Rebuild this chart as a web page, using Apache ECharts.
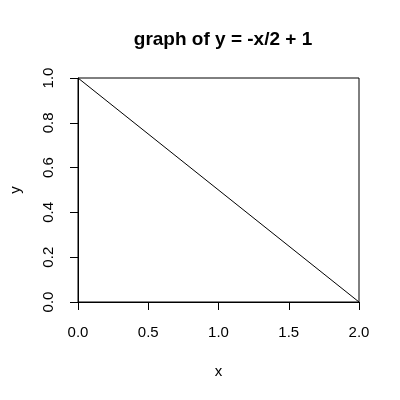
<!DOCTYPE html>
<html lang="en">
<head>
  <meta charset="UTF-8">
  <title>graph of y = -x/2 + 1</title>
  <script type="text/javascript" src="https://fastly.jsdelivr.net/npm/echarts@6.0.0/dist/echarts.min.js"></script>
  <style>
    html, body, #container {
      width: 100%;
      height: 100%;
      margin: 0;
      padding: 0;
      overflow: hidden;
      background: #fff;
    }
  </style>
</head>
<body>
  <div id="container"></div>

  <script type="text/javascript">
    // line end points
    var xValues = [0, 2];
    var yValues = [1, 0];
    var xTicks = [0, 0.5, 1, 1.5, 2];
    var yTicks = [0, 0.2, 0.4, 0.6, 0.8, 1];

    var points = xValues.map(function (x, i) { return [x, yValues[i]]; });
    var font = 'Liberation Sans, Arial, sans-serif';

    var myChart = echarts.init(document.getElementById('container'), null, { renderer: 'canvas' });
    myChart.setOption({
      animation: false,
      title: {
        text: 'graph of y = -x/2 + 1',
        left: 218, top: 25, textAlign: 'center',
        textStyle: { fontFamily: font, fontSize: 19, fontWeight: 'bold', color: '#000' }
      },
      grid: {
        left: 78, right: 41, top: 78, bottom: 98,
        outerBoundsMode: 'none',
        show: true, borderColor: '#000', borderWidth: 1
      },
      xAxis: {
        type: 'value',
        min: xTicks[0], max: xTicks[xTicks.length - 1], interval: 0.5,
        name: 'x', nameLocation: 'middle', nameGap: 62,
        nameTextStyle: { fontFamily: font, fontSize: 15, color: '#000' },
        axisLine: { show: true, onZero: false, lineStyle: { color: '#000', width: 1 } },
        axisTick: { show: true, inside: false, length: 8, lineStyle: { color: '#000', width: 1 } },
        axisLabel: {
          margin: 23, fontFamily: font, fontSize: 15, color: '#000',
          showMinLabel: true, showMaxLabel: true,
          formatter: function (v) { return v.toFixed(1); }
        },
        splitLine: { show: false },
        z: 5
      },
      yAxis: {
        type: 'value',
        min: yTicks[0], max: yTicks[yTicks.length - 1], interval: 0.2,
        name: 'y', nameLocation: 'middle', nameGap: 55, nameRotate: 90,
        nameTextStyle: { fontFamily: font, fontSize: 15, color: '#000' },
        axisLine: { show: true, onZero: false, lineStyle: { color: '#000', width: 1 } },
        axisTick: { show: true, inside: false, length: 8, lineStyle: { color: '#000', width: 1 } },
        axisLabel: {
          margin: 22, rotate: 90, fontFamily: font, fontSize: 15, color: '#000',
          showMinLabel: true, showMaxLabel: true,
          formatter: function (v) { return v.toFixed(1); }
        },
        splitLine: { show: false },
        z: 5
      },
      series: [{
        type: 'line',
        data: points,
        showSymbol: false,
        lineStyle: { color: '#000', width: 1 }
      }]
    });
  </script>
</body>
</html>
